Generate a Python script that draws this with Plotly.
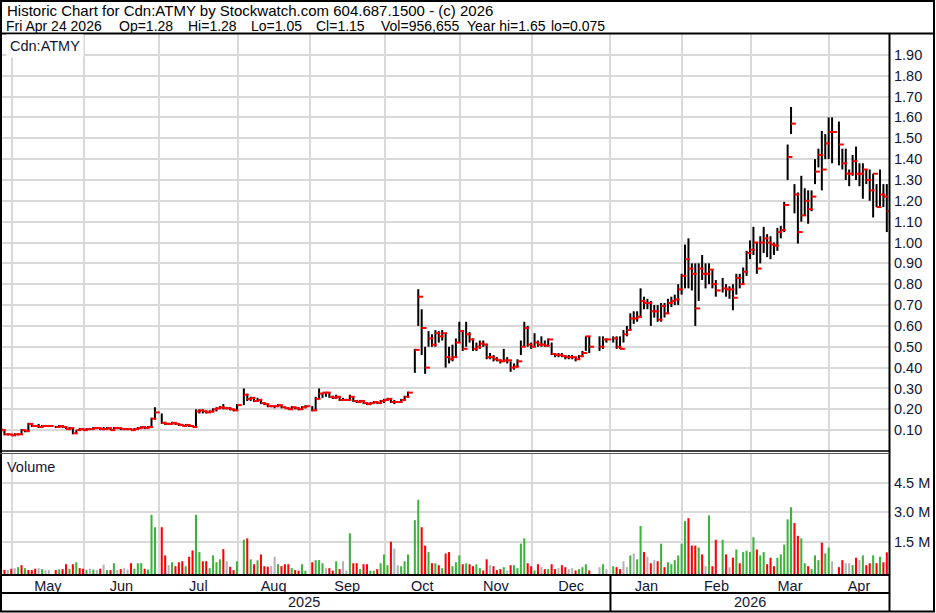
import numpy as np
import pandas as pd
import plotly.graph_objects as go

# ---------------- data ----------------
holidays = ["2025-05-19", "2025-07-01", "2025-08-04", "2025-09-01", "2025-10-13",
            "2025-12-25", "2025-12-26", "2026-01-01", "2026-02-16", "2026-04-03"]
weekdays = pd.bdate_range("2025-04-25", "2026-04-24")
dates = weekdays[~weekdays.isin(pd.to_datetime(holidays))]

high = [
    .11, .105, .10, .085,
    .08, .085, .085, .105, .10, .135, .13, .125, .13, .125, .125, .125, .12, .125, .12, .12, .115, .11, .10, .11, .11,
    .11, .11, .115, .115, .11, .115, .115, .11, .115, .115, .11, .11, .11, .11, .11, .115, .12, .115, .12, .16, .21,
    .18, .14, .135, .14, .135, .13, .13, .13, .125, .125, .20, .20, .20, .195, .195, .205, .21, .215, .225, .21, .21, .20,
    .225, .30, .275, .26, .255, .255, .25, .235, .23, .22, .22, .225, .22, .215, .21, .215, .21, .21, .215, .22,
    .215, .26, .30, .28, .28, .28, .265, .27, .26, .255, .25, .27, .26, .245, .245, .24, .235, .235, .24, .235, .245,
    .25, .255, .25, .245, .24, .25, .265, .285, .49, .776, .68, .50, .575, .56, .58, .575, .58, .565, .50, .51, .54, .62,
    .58, .62, .57, .54, .52, .53, .53, .515, .47, .46, .45, .44, .49, .45, .43, .42, .44, .53, .62, .60,
    .52, .565, .53, .55, .53, .54, .52, .47, .47, .47, .46, .46, .46, .45, .46, .48, .55, .55, .55, .55, .54,
    .55, .55, .55, .58, .60, .66, .67, .67, .78, .74, .73, .72, .70, .70, .71, .71, .73, .74, .75, .80, .85,
    .99, 1.02, .90, .90, .90, .94, .90, .90, .87, .82, .83, .80, .79, .80, .85, .85, .88, .96, 1.01,
    1.075, 1.00, 1.03, 1.075, 1.04, 1.03, 1.00, 1.07, 1.08, 1.195, 1.47, 1.65, 1.28, 1.24, 1.32, 1.26, 1.25, 1.25, 1.40, 1.45, 1.535, 1.52,
    1.60, 1.60, 1.58, 1.45, 1.45, 1.35, 1.42, 1.46, 1.38, 1.38, 1.35, 1.35, 1.33, 1.28, 1.35, 1.28, 1.28,
]
low = [
    .10, .095, .075, .075,
    .075, .075, .075, .08, .09, .095, .115, .115, .11, .115, .115, .115, .11, .115, .11, .105, .10, .08, .085, .10, .10,
    .10, .10, .105, .105, .10, .10, .105, .10, .10, .105, .10, .10, .10, .10, .10, .105, .105, .105, .11, .11, .15,
    .13, .125, .125, .125, .125, .12, .12, .12, .115, .115, .12, .18, .18, .18, .185, .185, .19, .20, .20, .20, .195, .19,
    .195, .22, .24, .24, .235, .235, .225, .22, .21, .21, .205, .21, .205, .205, .20, .20, .20, .195, .20, .205,
    .19, .195, .25, .255, .26, .255, .25, .25, .24, .24, .24, .24, .235, .23, .23, .225, .22, .22, .225, .225, .225,
    .23, .24, .23, .225, .23, .23, .24, .255, .375, .60, .46, .37, .50, .50, .50, .52, .53, .40, .42, .43, .45, .52,
    .48, .50, .52, .48, .48, .49, .50, .44, .44, .43, .43, .42, .43, .42, .38, .39, .40, .46, .50, .50,
    .49, .50, .50, .50, .50, .50, .46, .45, .45, .45, .44, .44, .44, .43, .44, .45, .48, .47, .48, .49, .52,
    .52, .49, .49, .52, .55, .58, .61, .62, .64, .68, .68, .60, .64, .62, .62, .64, .66, .69, .70, .70, .75,
    .78, .78, .77, .60, .72, .82, .78, .80, .78, .74, .76, .74, .73, .675, .75, .78, .80, .84, .92,
    .94, .85, .90, .95, .93, .92, .94, .96, 1.02, 1.05, 1.30, 1.52, 1.14, .995, 1.10, 1.13, 1.09, 1.15, 1.28, 1.36, 1.25, 1.40,
    1.40, 1.38, 1.37, 1.35, 1.30, 1.27, 1.32, 1.30, 1.27, 1.21, 1.28, 1.20, 1.12, 1.17, 1.17, 1.17, 1.05,
]
close = [
    .105, .10, .08, .08,
    .075, .08, .08, .10, .095, .13, .12, .12, .115, .12, .12, .12, .115, .12, .115, .105, .11, .085, .10, .105, .10,
    .105, .105, .11, .11, .105, .105, .11, .10, .11, .11, .105, .105, .105, .10, .105, .11, .115, .11, .115, .155, .185,
    .135, .13, .13, .135, .13, .125, .12, .125, .12, .115, .19, .195, .19, .185, .19, .20, .205, .21, .205, .205, .20, .195,
    .22, .27, .25, .255, .24, .245, .23, .225, .215, .215, .215, .22, .21, .205, .20, .21, .205, .20, .21, .215,
    .195, .25, .275, .28, .28, .26, .255, .26, .245, .245, .245, .26, .24, .235, .24, .23, .225, .23, .235, .23, .24,
    .245, .25, .235, .235, .235, .245, .26, .28, .485, .74, .59, .40, .54, .51, .565, .55, .565, .45, .44, .45, .52, .575,
    .49, .56, .535, .49, .50, .515, .51, .45, .45, .44, .435, .43, .435, .435, .40, .405, .43, .50, .59, .51,
    .50, .52, .51, .51, .505, .535, .465, .46, .46, .455, .45, .45, .45, .44, .455, .47, .55, .50, .50, .535, .535,
    .54, .50, .49, .56, .58, .636, .636, .644, .72, .71, .71, .67, .67, .63, .695, .66, .71, .72, .727, .775, .84,
    .92, .875, .85, .684, .875, .85, .85, .87, .80, .77, .78, .775, .775, .735, .83, .80, .86, .95, .965,
    1.00, .875, 1.00, 1.02, 1.00, .99, .985, 1.05, 1.06, 1.18, 1.41, 1.57, 1.23, 1.05, 1.13, 1.20, 1.16, 1.22, 1.34, 1.42, 1.35, 1.475,
    1.53, 1.53, 1.47, 1.38, 1.33, 1.33, 1.39, 1.33, 1.33, 1.35, 1.30, 1.25, 1.33, 1.17, 1.23, 1.22, 1.15,
]
volume = [
    50000, 80000, 60000, 60000,
    120000, 150000, 200000, 300000, 150000, 60000, 50000, 120000, 150000, 100000, 50000, 50000, 50000, 80000, 100000, 350000, 120000, 350000, 450000, 150000, 120000,
    50000, 120000, 80000, 50000, 120000, 330000, 50000, 50000, 400000, 50000, 100000, 150000, 80000, 400000, 120000, 400000, 400000, 120000, 80000, 2870000, 2240000,
    2240000, 800000, 300000, 450000, 250000, 450000, 500000, 250000, 730000, 1050000, 2870000, 970000, 500000, 500000, 150000, 800000, 450000, 600000, 1120000, 500000, 220000, 50000,
    500000, 1600000, 1670000, 600000, 350000, 550000, 850000, 250000, 220000, 250000, 730000, 350000, 250000, 350000, 350000, 150000, 50000, 20000, 350000, 20000,
    450000, 560000, 560000, 400000, 150000, 150000, 20000, 500000, 100000, 500000, 20000, 1930000, 400000, 400000, 100000, 350000, 350000, 20000, 20000, 100000, 400000,
    850000, 300000, 1500000, 1150000, 300000, 250000, 500000, 850000, 2600000, 3640000, 2240000, 1300000, 970000, 400000, 400000, 300000, 150000, 900000, 970000, 250000, 450000, 800000,
    350000, 400000, 350000, 250000, 350000, 150000, 30000, 600000, 300000, 250000, 50000, 100000, 200000, 30000, 300000, 300000, 150000, 1400000, 1670000, 400000,
    250000, 30000, 350000, 200000, 100000, 100000, 350000, 100000, 150000, 300000, 200000, 100000, 150000, 30000, 100000, 200000, 350000, 30000, 200000, 350000, 100000,
    250000, 200000, 100000, 500000, 200000, 800000, 900000, 600000, 2300000, 970000, 730000, 400000, 560000, 500000, 1400000, 200000, 450000, 350000, 560000, 800000, 1400000,
    2550000, 2700000, 1300000, 1300000, 1200000, 850000, 250000, 2840000, 250000, 1600000, 1600000, 850000, 200000, 680000, 1100000, 400000, 970000, 1040000, 970000,
    1730000, 1100000, 800000, 970000, 350000, 680000, 250000, 680000, 850000, 1350000, 2640000, 3260000, 2450000, 1800000, 1670000, 400000, 250000, 100000, 800000, 560000, 1450000, 900000,
    1200000, 500000, 200000, 560000, 400000, 400000, 300000, 680000, 560000, 800000, 300000, 400000, 800000, 400000, 730000, 450000, 956655,
]
# volume bar colour: g = up day, r = down day, n = unchanged
vol_dir = list(
    "rrrn"
    "rngrgrrrngnnrgrrgrgrr"
    "gngnrngrgnrnnrgggrggg"
    "rrngrrrgrrggrrggggrnrr"
    "ggrgrgrrrnngrrrgrrgg"
    "rgggnrrgrnngrrgrrggrg"
    "ggrnngggggrrgrgrgrrggg"
    "rgrrggrrnrrrgnrggggr"
    "rgrnrgrrnrrnnrgggrngn"
    "grrnngnggrnrnrgrggggg"
    "grrrgrngrrgrnrgrggg"
    "grggrrrgggggrrggrgggrg"
    "gnrrnngrngrrgrgrr"
)

lens = [len(high), len(low), len(close), len(volume), len(vol_dir), len(dates)]
assert len(set(lens)) == 1, lens

title_1 = "Historic Chart for Cdn:ATMY by Stockwatch.com 604.687.1500 - (c) 2026"
title_2_fields = ["Fri Apr 24 2026", "Op=1.28", "Hi=1.28", "Lo=1.05", "Cl=1.15",
                  "Vol=956,655", "Year hi=1.65", "lo=0.075"]
symbol = "Cdn:ATMY"
price_ticks = [round(0.1 * i, 2) for i in range(1, 20)]
vol_ticks = [1_500_000, 3_000_000, 4_500_000]
vol_ticktext = ["1.5 M", "3.0 M", "4.5 M"]

# ---------------- geometry ----------------
W, H = 936, 613
ML, MR, MT, MB = 1, 47, 34, 38
PW, PH = W - ML - MR, H - MT - MB


def PX(x):
    return (x - ML) / PW


def PY(y):
    return (H - MB - y) / PH


start = np.datetime64(dates[0].date())
xpos = np.busday_count(start, dates.values.astype("datetime64[D]")).astype(float)
x0, x1 = 0.994, 260.64

months = pd.date_range("2025-05-01", "2026-04-01", freq="MS")
grid_pos = []
for m in months:
    d = np.busday_offset(np.datetime64(m.date()), 0, roll="backward")
    grid_pos.append(float(np.busday_count(start, d)) + 0.2)
bounds = [x0] + grid_pos + [xpos[-1] + 0.5]
label_pos = [(a + b) / 2 for a, b in zip(bounds[:-1], bounds[1:])]
label_txt = ["Apr"] + [m.strftime("%b") for m in months]

vmin, vmax = -200_000, 6_000_000
col_map = {"g": "#3cb43c", "r": "#ff0000", "n": "#b4b4b4"}
vol_colors = [col_map[c] for c in vol_dir]

GRID = "#d9d9d9"
TXT = "#141432"
FONT = "Arial, Liberation Sans, sans-serif"
FS = 14.5

fig = go.Figure()
fig.add_trace(go.Ohlc(
    x=xpos, open=close, high=high, low=low, close=close,
    increasing=dict(line=dict(color="black", width=2)),
    decreasing=dict(line=dict(color="black", width=2)),
    tickwidth=0, xaxis="x", yaxis="y", hoverinfo="skip", showlegend=False))
fig.add_trace(go.Scatter(
    x=xpos + 0.7, y=close, mode="markers",
    marker=dict(symbol="line-ew", size=3.5, color="red", line=dict(color="red", width=2)),
    xaxis="x", yaxis="y", hoverinfo="skip", showlegend=False))
fig.add_trace(go.Bar(
    x=xpos, y=np.array(volume) - vmin, base=vmin, width=0.6,
    marker=dict(color=vol_colors, line=dict(width=0)),
    xaxis="x2", yaxis="y2", hoverinfo="skip", showlegend=False))

axis_font = dict(family=FONT, size=FS, color=TXT)
fig.update_layout(
    width=W, height=H, margin=dict(l=ML, r=MR, t=MT, b=MB, pad=0),
    paper_bgcolor="white", plot_bgcolor="white", showlegend=False,
    font=dict(family=FONT, size=FS, color=TXT),
    xaxis=dict(domain=[0, 1], anchor="y", range=[x0, x1], tickmode="array", tickvals=grid_pos,
               showticklabels=False, ticks="", showgrid=True, gridcolor=GRID, gridwidth=2,
               zeroline=False, showline=False, rangeslider=dict(visible=False)),
    yaxis=dict(domain=[PY(451), 1], anchor="x", range=[0, 2.0], side="right",
               tickmode="array", tickvals=price_ticks, tickformat=".2f", ticks="",
               showgrid=True, gridcolor=GRID, gridwidth=2, zeroline=False, showline=False,
               tickfont=axis_font, ticklabelstandoff=4),
    xaxis2=dict(domain=[0, 1], anchor="y2", range=[x0, x1], tickmode="array",
                tickvals=label_pos, ticktext=label_txt, ticks="", showgrid=False,
                zeroline=False, showline=False, tickfont=axis_font,
                minor=dict(tickmode="array", tickvals=grid_pos, showgrid=True,
                           gridcolor=GRID, gridwidth=2, ticks="")),
    yaxis2=dict(domain=[0, PY(453.5)], anchor="x2", range=[vmin, vmax], side="right",
                tickmode="array", tickvals=vol_ticks, ticktext=vol_ticktext, ticks="",
                showgrid=True, gridcolor=GRID, gridwidth=2, zeroline=False, showline=False,
                tickfont=axis_font, ticklabelstandoff=4),
)

ann = dict(xref="paper", yref="paper", showarrow=False, borderpad=0)
fig.add_annotation(text=title_1, x=PX(6), y=PY(10), xanchor="left", yanchor="middle",
                   font=dict(family=FONT, size=15, color="black"), **ann)
field_px = [5, 118, 187, 250, 315, 380, 466, 550]
for txt, fx in zip(title_2_fields, field_px):
    fig.add_annotation(text=txt, x=PX(fx), y=PY(26), xanchor="left", yanchor="middle",
                       font=dict(family=FONT, size=14, color="black"), **ann)
fig.add_annotation(text=symbol, x=PX(6), y=PY(46), xanchor="left", yanchor="middle",
                   bgcolor="white", xref="paper", yref="paper", showarrow=False, borderpad=3,
                   font=axis_font)
fig.add_annotation(text="Volume", x=PX(6), y=PY(467), xanchor="left", yanchor="middle",
                   font=axis_font, **ann)
year_div = grid_pos[8]
fig.add_annotation(text="2025", x=(x0 + year_div) / 2 - 0.5, xref="x2", y=PY(602), yref="paper",
                   showarrow=False, font=axis_font, yanchor="middle")
fig.add_annotation(text="2026", x=(year_div + x1) / 2, xref="x2", y=PY(602), yref="paper",
                   showarrow=False, font=axis_font, yanchor="middle")

line = dict(color="black", width=2)
shapes = [
    dict(type="rect", xref="paper", yref="paper", x0=PX(1), x1=PX(934), y0=PY(1), y1=PY(611.5),
         line=line, fillcolor="rgba(0,0,0,0)"),
    dict(type="line", xref="paper", yref="paper", x0=PX(0), x1=PX(934), y0=PY(33.5), y1=PY(33.5), line=line),
    dict(type="line", xref="paper", yref="paper", x0=PX(889.5), x1=PX(889.5), y0=PY(33.5), y1=PY(611.5), line=line),
    dict(type="line", xref="paper", yref="paper", x0=PX(0), x1=PX(889.5), y0=PY(451), y1=PY(451),
         line=dict(color="black", width=1.5)),
    dict(type="line", xref="paper", yref="paper", x0=PX(0), x1=PX(889.5), y0=PY(453.5), y1=PY(453.5),
         line=dict(color="#555555", width=1.2)),
    dict(type="line", xref="paper", yref="paper", x0=PX(0), x1=PX(889.5), y0=PY(575), y1=PY(575), line=line),
    dict(type="line", xref="paper", yref="paper", x0=PX(0), x1=PX(889.5), y0=PY(593), y1=PY(593), line=line),
    dict(type="line", xref="x2", yref="paper", x0=year_div, x1=year_div, y0=PY(575), y1=PY(611.5), line=line),
]
fig.update_layout(shapes=shapes)

fig.write_html("out.html", config={"displayModeBar": False},
               post_script="document.body.style.margin='0px';document.body.style.overflow='hidden';")
